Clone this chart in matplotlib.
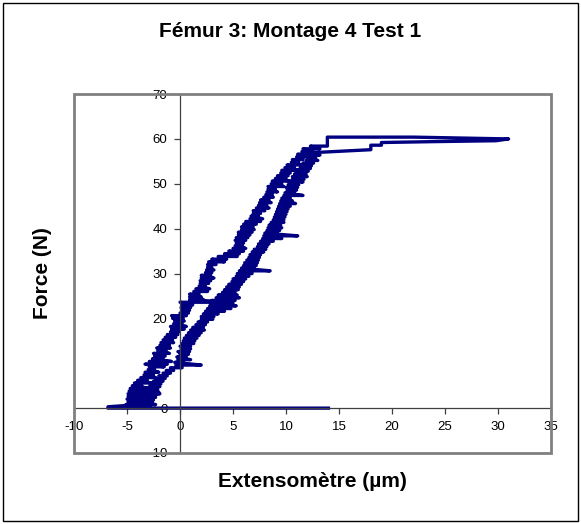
import matplotlib.pyplot as plt
from matplotlib.patches import Rectangle

plt.rcParams['font.family'] = ['Liberation Sans', 'DejaVu Sans']
plt.rcParams['axes.unicode_minus'] = False

# loading branch (left band): force level and the two ends of each jitter stroke
load_y = [0.3, 0.8, 1.4, 2.0, 2.6, 3.2, 3.8, 4.4, 5.0, 5.6,
          6.2, 6.8, 7.4, 8.0, 8.6, 9.2, 9.8, 10.4, 11.0, 11.6,
          12.2, 12.8, 13.4, 14.0, 14.6, 15.2, 15.8, 16.4, 17.0, 17.6,
          18.2, 18.8, 19.4, 20.0, 20.6, 21.2, 21.8, 22.4, 23.0, 23.6,
          24.2, 24.8, 25.4, 26.0, 26.6, 27.2, 27.8, 28.4, 29.0, 29.6,
          30.2, 30.8, 31.4, 32.0, 32.6, 33.2, 33.8, 34.4, 35.0, 35.6,
          36.2, 36.8, 37.4, 38.0, 38.6, 39.2, 39.8, 40.4, 41.0, 41.6,
          42.2, 42.8, 43.4, 44.0, 44.6, 45.2, 45.8, 46.4, 47.0, 47.6,
          48.2, 48.8, 49.4, 50.0, 50.6, 51.2, 51.8, 52.4, 53.0, 53.6,
          54.2, 54.8, 55.4, 56.0, 56.6, 57.2, 57.8, 58.4]
load_xa = [-5.0, -5.1, -4.9, -5.0, -4.9, -4.9, -4.8, -4.7, -4.5, -4.3,
           -4.0, -3.7, -3.4, -3.3, -3.0, -2.9, -3.3, -2.9, -2.6, -2.4,
           -2.5, -2.1, -2.2, -1.9, -1.8, -1.6, -1.4, -1.2, -0.9, -0.8,
           -0.9, -0.6, -0.5, -0.7, -0.8, 0.0, 0.2, 0.1, 0.2, 0.0,
           0.9, 0.9, 0.9, 1.3, 1.5, 1.8, 1.9, 1.9, 2.0, 2.0,
           2.4, 2.5, 2.6, 2.6, 2.7, 3.0, 3.6, 4.2, 4.6, 5.0,
           5.2, 5.3, 5.2, 5.3, 5.5, 5.5, 5.8, 5.8, 6.0, 6.2,
           6.6, 6.7, 6.9, 6.9, 7.2, 7.4, 7.5, 7.6, 7.9, 8.1,
           8.2, 8.3, 8.3, 8.6, 8.7, 9.0, 9.2, 9.5, 9.6, 9.9,
           10.1, 10.5, 10.6, 11.0, 11.1, 11.5, 11.6, 12.3]
load_xb = [-3.0, -2.3, -3.4, -2.6, -3.8, -1.9, -3.4, -2.8, -3.6, -2.7,
           -3.1, -2.3, -2.5, -2.0, -2.4, -1.5, -1.2, -0.8, -1.6, -1.4,
           -1.0, -1.3, -0.9, -1.0, -0.6, -0.7, -0.4, -0.2, -0.1, 0.4,
           0.6, 0.2, 0.4, 0.3, 0.6, 0.8, 0.9, 1.0, 1.2, 4.5,
           2.2, 2.0, 1.8, 2.6, 2.8, 2.4, 2.7, 2.9, 3.2, 2.9,
           3.0, 3.2, 3.0, 3.4, 4.2, 4.4, 5.4, 5.6, 6.0, 6.2,
           5.9, 6.0, 6.2, 6.4, 6.6, 6.8, 7.0, 6.9, 7.2, 7.6,
           7.8, 7.4, 7.6, 8.0, 8.4, 8.2, 8.6, 8.4, 8.8, 8.7,
           9.2, 9.0, 9.8, 9.6, 10.4, 10.0, 10.2, 10.4, 11.2, 10.8,
           11.4, 11.2, 11.6, 11.8, 12.3, 12.5, 13.2, 13.9]

# plateau near 60 N
top_x = [13.9, 22.0, 31.0, 29.8, 24.0, 19.0, 19.0, 18.0, 18.0]
top_y = [60.4, 60.4, 60.0, 59.6, 59.4, 59.2, 58.6, 58.6, 57.6]

# unloading branch (right band)
unload_y = [57.0, 56.4, 55.8, 55.2, 54.6, 54.0, 53.4, 52.8, 52.2, 51.6,
            51.0, 50.4, 49.8, 49.2, 48.6, 48.0, 47.4, 46.8, 46.2, 45.6,
            45.0, 44.4, 43.8, 43.2, 42.6, 42.0, 41.4, 40.8, 40.2, 39.6,
            39.0, 38.4, 37.8, 37.2, 36.6, 36.0, 35.4, 34.8, 34.2, 33.6,
            33.0, 32.4, 31.8, 31.2, 30.6, 30.0, 29.4, 28.8, 28.2, 27.6,
            27.0, 26.4, 25.8, 25.2, 24.6, 24.0, 23.4, 22.8, 22.2, 21.6,
            21.0, 20.4, 19.8, 19.2, 18.6, 18.0, 17.4, 16.8, 16.2, 15.6,
            15.0, 14.4, 13.8, 13.2, 12.6, 12.0, 11.4, 10.8, 10.2, 9.6,
            9.0, 8.4, 7.8, 7.2, 6.6, 6.0, 5.4, 4.8, 4.2, 3.6,
            3.0, 2.4, 1.8, 1.2, 0.6]
unload_xb = [13.0, 13.2, 12.8, 13.0, 12.6, 12.4, 12.3, 12.1, 11.9, 12.0,
             11.7, 11.6, 11.2, 11.1, 11.0, 10.8, 11.6, 10.4, 10.6, 10.9,
             10.4, 10.2, 10.1, 10.0, 9.9, 9.8, 9.8, 9.5, 9.6, 9.4,
             9.2, 11.1, 9.6, 8.8, 8.4, 8.2, 8.1, 7.9, 7.6, 7.5,
             7.4, 7.3, 7.2, 7.0, 8.5, 6.8, 6.5, 6.2, 6.0, 5.8,
             5.6, 5.5, 5.2, 5.4, 5.6, 5.2, 5.0, 5.3, 4.8, 4.2,
             3.6, 3.2, 3.1, 2.6, 2.4, 2.2, 2.3, 2.0, 1.8, 1.6,
             1.4, 1.3, 1.0, 1.0, 0.9, 0.8, 0.6, 1.0, 0.3, 2.0,
             0.2, -0.6, -0.9, -1.2, -1.4, -1.6, -1.8, -1.9, -2.1, -2.0,
             -2.2, -2.3, -2.5, -2.6, -2.8]
unload_xa = [12.2, 12.2, 12.0, 11.9, 11.6, 11.4, 11.3, 11.0, 10.8, 10.6,
             10.6, 10.4, 10.2, 10.0, 10.1, 9.9, 9.8, 9.6, 9.5, 9.4,
             9.3, 9.2, 9.1, 9.0, 8.9, 8.8, 8.6, 8.4, 8.3, 8.2,
             8.0, 7.9, 7.8, 7.6, 7.4, 7.3, 7.0, 6.8, 6.6, 6.5,
             6.3, 6.1, 6.0, 5.8, 5.6, 5.4, 5.3, 5.0, 4.9, 4.6,
             4.4, 4.2, 4.0, 3.6, 3.4, 3.0, 2.9, 2.8, 2.6, 2.4,
             2.2, 2.0, 2.0, 1.7, 1.5, 1.2, 1.0, 0.8, 0.6, 0.4,
             0.3, 0.2, 0.0, 0.1, -0.2, 0.0, -0.3, -0.2, -0.5, -0.4,
             -0.9, -1.3, -1.6, -2.0, -2.3, -2.5, -2.7, -2.9, -3.1, -3.2,
             -3.5, -3.6, -3.8, -4.0, -4.4]

# back to zero load
base_x = [-5.0, -6.8, -6.8, 14.0]
base_y = [0.6, 0.3, 0.0, 0.0]

xticks = [-10, -5, 0, 5, 10, 15, 20, 25, 30, 35]
yticks = [-10, 0, 10, 20, 30, 40, 50, 60, 70]

# one continuous trace
ext, force = [], []
for y, a, b in zip(load_y, load_xa, load_xb):
    ext += [a, b]
    force += [y, y]
ext += top_x
force += top_y
for y, b, a in zip(unload_y, unload_xb, unload_xa):
    ext += [b, a]
    force += [y, y]
ext += base_x
force += base_y

fig = plt.figure(figsize=(5.81, 5.24), dpi=100)
fig.patches.append(Rectangle((0.005, 0.005), 0.99, 0.99, transform=fig.transFigure,
                             fill=False, edgecolor='black', lw=1))

ax = fig.add_axes([0.1274, 0.1355, 0.821, 0.685])
ax.plot(ext, force, color='#000080', lw=2.4)
ax.set_xlim(-10, 35)
ax.set_ylim(-10, 70)

# Excel style: axes cross at zero, plot area has a grey frame
ax.spines['left'].set_position(('data', 0))
ax.spines['bottom'].set_position(('data', 0))
ax.spines['top'].set_visible(False)
ax.spines['right'].set_visible(False)
for s in ['left', 'bottom']:
    ax.spines[s].set_color('#404040')
    ax.spines[s].set_linewidth(0.9)
ax.add_patch(Rectangle((0, 0), 1, 1, transform=ax.transAxes, fill=False,
                       edgecolor='#808080', lw=2, clip_on=False, zorder=5))

ax.set_xticks(xticks)
ax.set_yticks(yticks)
ax.tick_params(direction='out', length=4, width=0.9, color='#404040',
               labelsize=9.5, pad=5)

fig.text(0.5, 0.939, 'Fémur 3: Montage 4 Test 1', ha='center', va='center',
         fontsize=15, fontweight='bold')
fig.text(0.073, 0.479, 'Force (N)', ha='center', va='center', rotation=90,
         fontsize=15, fontweight='bold')
fig.text(0.538, 0.081, 'Extensomètre (µm)', ha='center', va='center',
         fontsize=15, fontweight='bold')

fig.savefig('out.png', dpi=100)
